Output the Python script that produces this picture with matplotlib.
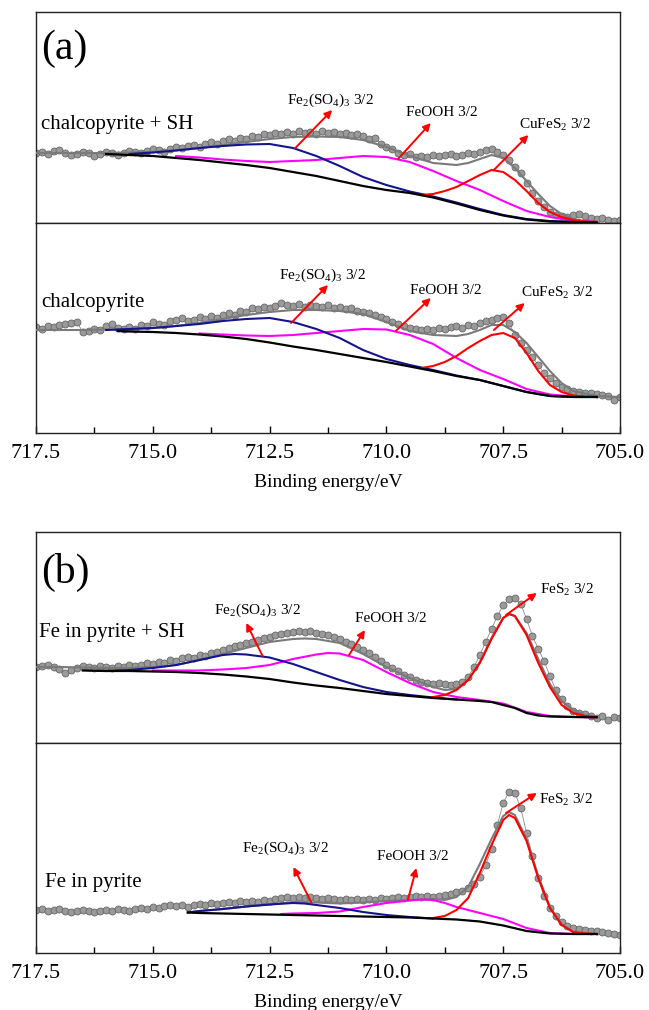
import numpy as np
import matplotlib
matplotlib.use('Agg')
import matplotlib.pyplot as plt

plt.rcParams['font.family'] = ['Liberation Serif', 'DejaVu Serif']
plt.rcParams['mathtext.fontset'] = 'custom'
plt.rcParams['mathtext.rm'] = 'Liberation Serif'
plt.rcParams['mathtext.it'] = 'Liberation Serif:italic'

# ---------------- data (intensity in arbitrary units) ----------------
e_dots = np.linspace(717.5, 705.0, 101)

# (a) chalcopyrite + SH
dots_a1 = [70, 71, 69, 72, 73, 70, 68, 69, 71, 70,
           67, 69, 71, 70, 68, 70, 72, 71, 70, 72,
           74, 73, 71, 74, 76, 75, 77, 78, 76, 79,
           81, 79, 82, 84, 82, 85, 84, 87, 86, 89,
           88, 90, 89, 91, 89, 92, 90, 91, 89, 92,
           90, 91, 89, 90, 88, 89, 87, 84, 85, 79,
           76, 74, 70, 68, 69, 66, 67, 66, 68, 67,
           68, 69, 67, 68, 70, 69, 71, 73, 74, 71,
           68, 63, 56, 50, 40, 30, 22, 16, 11, 8,
           7, 6, 8, 9, 7, 5, 4, 5, 3, 2, 3]
fit_a1_e = [717.5, 717.0, 716.5, 716.0, 715.5, 715.0, 714.5, 714.0, 713.5, 713.0, 712.5,
            712.0, 711.5, 711.0, 710.5, 710.0, 709.5, 709.0, 708.5, 708.25, 708.0, 707.75,
            707.5, 707.25, 707.0, 706.75, 706.5, 706.25, 706.0, 705.75, 705.5]
fit_a1 = [70, 70, 70, 70, 70.5, 71, 73, 75, 78, 81, 84,
          86, 86.5, 86, 83, 76, 67, 60, 58, 60, 64, 68,
          65, 55, 42, 29, 17, 9, 4, 2, 1.5]
bg_a1_e = [716.0, 715.5, 715.0, 714.5, 714.0, 713.5, 713.0, 712.5, 712.0, 711.5, 711.0,
           710.5, 710.0, 709.5, 709.0, 708.5, 708.0, 707.5, 707.0, 706.5, 706.0, 705.5]
bg_a1 = [69, 68, 67, 65, 63, 60.5, 58, 55, 51, 47, 42,
         37, 33, 30, 25.5, 19.5, 13, 7.5, 3.5, 1.5, 1, 0.5]
blue_a1_e = [715.5, 715.0, 714.5, 714.0, 713.5, 713.0, 712.5, 712.0, 711.5, 711.0, 710.5,
             710.0, 709.5, 709.0, 708.5, 708.0, 707.5, 707.0, 706.5, 706.0, 705.5]
blue_a1 = [69, 70.5, 72.5, 75, 77, 78.5, 79, 75, 67, 57, 46,
           38, 31.5, 26.5, 20.5, 14, 8, 4, 2, 1, 0.5]
mag_a1_e = [714.5, 714.0, 713.5, 713.0, 712.5, 712.0, 711.5, 711.0, 710.5, 710.0,
            709.5, 709.0, 708.5, 708.0, 707.5, 707.0, 706.5, 706.0, 705.5]
mag_a1 = [67, 65.5, 63.5, 62, 61, 62, 63, 65, 67, 66,
          61, 52, 42, 33, 22, 12, 6, 2.5, 1]
red_a1_e = [709.25, 709.0, 708.75, 708.5, 708.25, 708.0, 707.75, 707.5,
            707.25, 707.0, 706.75, 706.5, 706.25, 706.0, 705.75, 705.5]
red_a1 = [28, 29, 32, 36, 42, 48, 53, 51, 43, 32, 20, 11, 6, 3, 1.5, 1]

# (a) chalcopyrite
dots_a2 = [106, 104, 107, 106, 108, 109, 110, 111, 101, 102,
           104, 103, 107, 109, 105, 104, 106, 104, 108, 107,
           111, 109, 108, 112, 113, 115, 112, 113, 116, 114,
           117, 115, 118, 120, 118, 122, 121, 125, 124, 126,
           125, 127, 130, 128, 127, 129, 126, 128, 127, 126,
           128, 125, 126, 124, 125, 122, 121, 120, 118, 116,
           114, 111, 109, 107, 105, 104, 103, 104, 103, 105,
           104, 106, 107, 105, 108, 107, 110, 112, 113, 115,
           116, 110, 98, 90, 83, 76, 68, 60, 55, 50,
           46, 44, 42, 41, 40, 40, 39, 38, 37, 33, 36]
fit_a2_e = [717.5, 717.0, 716.5, 716.0, 715.5, 715.0, 714.5, 714.0, 713.5, 713.0, 712.5,
            712.0, 711.5, 711.0, 710.5, 710.0, 709.5, 709.0, 708.5, 708.25, 708.0, 707.75,
            707.5, 707.25, 707.0, 706.75, 706.5, 706.25, 706.0, 705.5, 705.0]
fit_a2 = [103, 103, 103, 103.5, 104, 105, 107, 110, 114, 118, 121,
          123, 123, 122, 119, 111, 102, 98, 97, 99, 103, 108,
          108, 101, 90, 76, 62, 50, 42, 37, 36]
bg_a2_e = [715.75, 715.5, 715.0, 714.5, 714.0, 713.5, 713.0, 712.5, 712.0, 711.5, 711.0,
           710.5, 710.0, 709.5, 709.0, 708.5, 708.0, 707.5, 707.0, 706.5, 706.0, 705.5]
bg_a2 = [102, 101.5, 101, 100, 98.5, 96.5, 94, 90.5, 86.5, 83, 79,
         75, 71, 66.5, 62, 57, 53, 47, 41, 37, 36, 36]
blue_a2_e = [716.0, 715.5, 715.0, 714.5, 714.0, 713.5, 713.0, 712.5, 712.0, 711.5, 711.0,
             710.5, 710.0, 709.5, 709.0, 708.5, 708.0, 707.5, 707.0, 706.5, 706.0, 705.5]
blue_a2 = [103, 104, 105, 107, 109, 112, 114, 115, 111, 104, 95,
           83, 74, 68, 63, 57.5, 53, 47, 41, 37, 36, 36]
mag_a2_e = [714.0, 713.5, 713.0, 712.5, 712.0, 711.5, 711.0, 710.5, 710.0,
            709.5, 709.0, 708.5, 708.0, 707.5, 707.0, 706.5, 706.0, 705.5]
mag_a2 = [99.5, 98.5, 97.5, 97, 98, 100, 102, 104, 103.5,
          98, 89, 75, 63, 54, 44, 38.5, 36.5, 36]
red_a2_e = [709.25, 709.0, 708.75, 708.5, 708.25, 708.0, 707.75, 707.5,
            707.25, 707.0, 706.75, 706.5, 706.25, 706.0, 705.75, 705.5]
red_a2 = [65, 67, 71, 77, 85, 92, 98, 100, 95, 80, 62, 48, 41, 37.5, 36.5, 36]

# (b) Fe in pyrite + SH
dots_b1 = [76, 77, 78, 76, 74, 70, 73, 75, 77, 76,
           75, 77, 76, 75, 77, 76, 78, 77, 78, 80,
           79, 81, 80, 83, 82, 85, 86, 85, 88, 87,
           90, 91, 93, 95, 97, 98, 100, 101, 103, 105,
           106, 108, 109, 110, 111, 112, 111, 112, 110, 109,
           108, 106, 104, 101, 99, 96, 93, 90, 86, 82,
           78, 75, 72, 68, 66, 63, 61, 60, 59, 60,
           59, 58, 59, 61, 66, 76, 88, 101, 114, 127,
           138, 144, 145, 139, 124, 107, 94, 82, 67, 53,
           44, 37, 32, 30, 29, 27, 25, 27, 23, 26, 25]
fit_b1_e = [717.5, 717.0, 716.5, 716.0, 715.5, 715.0, 714.5, 714.0, 713.5, 713.0, 712.5,
            712.0, 711.75, 711.5, 711.0, 710.5, 710.0, 709.5, 709.0, 708.75, 708.5, 708.25,
            708.0, 707.75, 707.5, 707.375, 707.25, 707.0, 706.75, 706.5, 706.25, 706.0,
            705.75, 705.5]
fit_b1 = [76, 76, 75.5, 75, 75, 76, 78, 83, 89, 95, 101,
          104, 104.5, 104, 100, 89, 76, 65, 56, 53, 54, 63,
          81, 105, 125, 129, 127, 110, 84, 59, 42, 33,
          28, 26]
bg_b1_e = [716.5, 716.0, 715.5, 715.0, 714.5, 714.0, 713.5, 713.0, 712.5, 712.0, 711.5,
           711.0, 710.5, 710.0, 709.5, 709.0, 708.5, 708.0, 707.75, 707.5, 707.25, 707.0,
           706.75, 706.5, 706.0, 705.5]
bg_b1 = [72.5, 72, 72, 71.5, 71, 70, 68.5, 66.5, 64, 60.5, 57.5,
         55, 52, 49, 47, 45, 43.5, 42, 41, 38, 35, 30,
         27.5, 26.5, 26, 25.7]
blue_b1_e = [716.0, 715.5, 715.0, 714.5, 714.0, 713.5, 713.25, 713.0, 712.5, 712.0,
             711.5, 711.0, 710.5, 710.0, 709.5, 709.0, 708.5]
blue_b1 = [72, 73, 75, 78, 83, 88, 89, 88.5, 85.5, 79,
           71, 63, 56, 51, 48, 45.5, 43.5]
mag_b1_e = [715.0, 714.5, 714.0, 713.5, 713.0, 712.5, 712.0, 711.5, 711.25, 711.0, 710.5,
            710.0, 709.5, 709.0, 708.5, 708.0, 707.5, 707.0, 706.5, 706.0, 705.5]
mag_b1 = [72.5, 72.5, 72.5, 73.5, 75, 78, 84, 88.5, 90, 89.5, 83,
          71, 60, 51, 46, 43, 39.5, 31, 27, 26, 25.7]
red_b1_e = [709.0, 708.75, 708.5, 708.25, 708.0, 707.75, 707.5, 707.375,
            707.25, 707.0, 706.75, 706.5, 706.25, 706.0, 705.75, 705.5]
red_b1 = [46, 48, 53, 63, 80, 104, 125, 129, 127, 108, 80, 56, 38, 30, 27, 26]

# (b) Fe in pyrite
dots_b2 = [43, 44, 42, 43, 44, 42, 41, 42, 43, 42,
           41, 42, 43, 42, 44, 43, 42, 44, 45, 44,
           46, 45, 47, 48, 47, 48, 46, 48, 49, 48,
           50, 49, 50, 51, 50, 52, 51, 52, 51, 53,
           52, 54, 55, 56, 55, 56, 55, 56, 55, 54,
           55, 54, 53, 54, 53, 54, 53, 54, 53, 55,
           54, 55, 56, 55, 56, 57, 56, 57, 56, 57,
           58, 59, 61, 62, 65, 69, 76, 88, 104, 128,
           150, 161, 160, 145, 120, 97, 75, 57, 45, 37,
           31, 27, 25, 24, 23, 22, 22, 21, 20, 19, 18]
fit_b2_e = [714.25, 714.0, 713.5, 713.0, 712.5, 712.0, 711.5, 711.0, 710.5, 710.0, 709.5,
            709.0, 708.75, 708.5, 708.25, 708.0, 707.75, 707.5, 707.375, 707.25, 707.0,
            706.75, 706.5, 706.25, 706.0, 705.75, 705.5]
fit_b2 = [40.5, 42, 44, 46.5, 48.5, 51, 50.5, 49.5, 50.5, 52, 53,
          54, 53, 56, 66, 89, 114, 137, 141, 138, 114,
          77, 46, 29, 21, 19.5, 19]
bg_b2_e = [714.25, 714.0, 713.5, 713.0, 712.5, 712.0, 711.5, 711.0, 710.5, 710.0,
           709.5, 709.0, 708.5, 708.0, 707.5, 707.0, 706.5, 706.0, 705.5]
bg_b2 = [40.5, 40, 39.5, 39, 38.5, 38, 37.5, 37, 36.5, 36,
         35.5, 34.5, 33.5, 31.5, 27.5, 22, 19.5, 19, 19]
blue_b2_e = [714.25, 714.0, 713.5, 713.0, 712.5, 712.0, 711.75, 711.5, 711.0,
             710.5, 710.0, 709.5, 709.0]
blue_b2 = [40.5, 42, 44, 46.5, 48.5, 50, 49.5, 48, 45, 41, 38, 36, 34.5]
mag_b2_e = [712.25, 712.0, 711.5, 711.0, 710.5, 710.0, 709.5, 709.25, 709.0,
            708.75, 708.5, 708.0, 707.5, 707.0, 706.5, 706.0, 705.5]
mag_b2 = [39, 39.5, 40, 41.5, 46, 50, 52.5, 53.5, 53, 50, 46, 40, 34, 25, 20, 19, 19]
red_b2_e = [709.0, 708.75, 708.5, 708.25, 708.0, 707.75, 707.5, 707.375,
            707.25, 707.0, 706.75, 706.5, 706.25, 706.0, 705.75, 705.5]
red_b2 = [35, 37, 43, 55, 80, 108, 133, 138, 135, 112, 75, 45, 28, 21, 19.5, 19]

xticks = [717.5, 715.0, 712.5, 710.0, 707.5, 705.0]
minor_ticks = [716.25, 713.75, 711.25, 708.75, 706.25]

FE2 = r'Fe$_2$(SO$_4$)$_3$ 3/2'
# labels: (text, label pos, arrow tail, arrow head)
ann_a1 = [(FE2, (712.13, 123), (711.95, 75), (711.16, 113)),
          ('FeOOH 3/2', (709.58, 110), (709.75, 64), (709.05, 100)),
          (r'CuFeS$_2$ 3/2', (707.16, 98), (707.70, 53), (706.96, 88))]
ann_a2 = [(FE2, (712.3, 158), (712.04, 110), (711.25, 148)),
          ('FeOOH 3/2', (709.5, 143), (709.8, 102), (709.05, 135)),
          (r'CuFeS$_2$ 3/2', (707.12, 140), (707.7, 103), (707.04, 130))]
ann_b1 = [(FE2, (713.7, 133), (712.65, 87), (713.0, 120)),
          ('FeOOH 3/2', (710.68, 125), (710.8, 88), (710.46, 113)),
          (r'FeS$_2$ 3/2', (706.72, 153), (707.44, 128), (706.78, 150))]
ann_b2 = [(FE2, (713.09, 105), (711.6, 50), (711.99, 86)),
          ('FeOOH 3/2', (710.2, 96), (709.54, 53), (709.36, 85)),
          (r'FeS$_2$ 3/2', (706.74, 153), (707.44, 140), (706.78, 160))]

# ---------------- figure ----------------
fig = plt.figure(figsize=(6.49, 10.10), dpi=100)
L, W = 36 / 649, 584 / 649


def px_axes(top, bottom):
    return fig.add_axes([L, 1 - bottom / 1010, W, (bottom - top) / 1010])


def draw(ax, height, dots, fit, bg, blue, mag, red, ann, sample, bottom):
    ax.plot(e_dots, dots, '-', color='#8c8c8c', lw=0.6, zorder=2)
    ax.plot(e_dots, dots, 'o', ms=5, mfc='#9a9a9a', mec='#666666', mew=0.6, zorder=2)
    ax.plot(fit[0], fit[1], color='#7a7a7a', lw=1.5, zorder=3)
    ax.plot(mag[0], mag[1], color='#ff00ff', lw=1.5, zorder=4)
    ax.plot(blue[0], blue[1], color='#14148c', lw=1.5, zorder=5)
    ax.plot(red[0], red[1], color='#ff0000', lw=1.5, zorder=6)
    ax.plot(bg[0], bg[1], color='black', lw=1.6, zorder=7)
    for text, lp, tail, head in ann:
        ax.annotate('', xy=head, xytext=tail,
                    arrowprops=dict(arrowstyle='-|>', color='red', lw=1.4,
                                    mutation_scale=11, shrinkA=0, shrinkB=0),
                    zorder=8)
        ax.text(lp[0], lp[1], text, fontsize=11, ha='left', va='center')
    ax.text(sample[0], sample[1], sample[2], fontsize=15, ha='left', va='center')
    ax.set_xlim(717.5, 705.0)
    ax.set_ylim(0, height)
    ax.set_yticks([])
    for s in ax.spines.values():
        s.set_linewidth(1.0)
        s.set_color('#222222')
    if bottom:
        ax.set_xticks(xticks)
        ax.set_xticks(minor_ticks, minor=True)
        ax.set_xticklabels(['%.1f' % t for t in xticks], fontsize=16)
        ax.tick_params(axis='x', which='major', direction='in', length=5, width=1.0, pad=8)
        ax.tick_params(axis='x', which='minor', direction='in', length=4, width=1.0)
        ax.set_xlabel('Binding energy/eV', fontsize=14, labelpad=8)
    else:
        ax.set_xticks([])


ax1 = px_axes(12, 223)
draw(ax1, 211, dots_a1, (fit_a1_e, fit_a1), (bg_a1_e, bg_a1), (blue_a1_e, blue_a1),
     (mag_a1_e, mag_a1), (red_a1_e, red_a1), ann_a1, (717.39, 98, 'chalcopyrite + SH'), False)
ax1.text(717.39, 174, '(a)', fontsize=30, ha='left', va='center')

ax2 = px_axes(223, 433)
draw(ax2, 210, dots_a2, (fit_a2_e, fit_a2), (bg_a2_e, bg_a2), (blue_a2_e, blue_a2),
     (mag_a2_e, mag_a2), (red_a2_e, red_a2), ann_a2, (717.39, 131, 'chalcopyrite'), True)

ax3 = px_axes(532, 743)
draw(ax3, 211, dots_b1, (fit_b1_e, fit_b1), (bg_b1_e, bg_b1), (blue_b1_e, blue_b1),
     (mag_b1_e, mag_b1), (red_b1_e, red_b1), ann_b1, (717.44, 111, 'Fe in pyrite + SH'), False)
ax3.text(717.39, 171, '(b)', fontsize=30, ha='left', va='center')

ax4 = px_axes(743, 953)
draw(ax4, 210, dots_b2, (fit_b2_e, fit_b2), (bg_b2_e, bg_b2), (blue_b2_e, blue_b2),
     (mag_b2_e, mag_b2), (red_b2_e, red_b2), ann_b2, (717.31, 70, 'Fe in pyrite'), True)

fig.savefig('out.png', dpi=100)
